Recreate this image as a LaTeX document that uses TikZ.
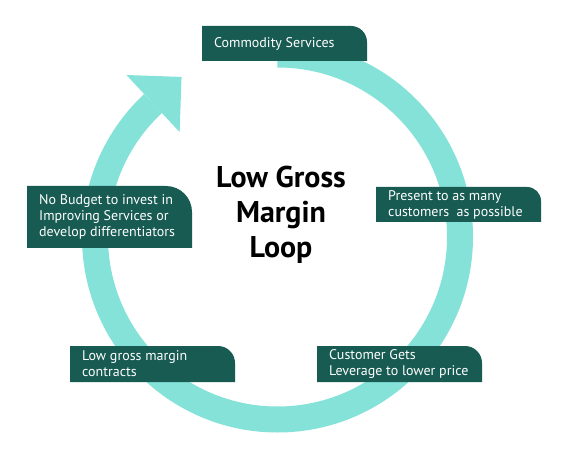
\documentclass[tikz,border=0pt]{standalone}
\usepackage{fontspec}
\setmainfont{PT Sans}
\usetikzlibrary{calc}
\definecolor{ringc}{HTML}{84E2D8}
\definecolor{boxc}{HTML}{175B52}
\begin{document}
\begin{tikzpicture}[x=1pt,y=1pt,
		 ring/.style={draw=ringc,line width=26pt},
		 lbl/.style={anchor=west,align=left,text=white,inner sep=0pt,font=\fontsize{14}{16}\selectfont}]
		 \useasboundingbox (0,0) rectangle (572,450);
		 \coordinate (c) at (277.5,213);
		 \draw[ring] (c) ++(90:182.5) arc[start angle=90,end angle=-227,radius=182.5];
		 \coordinate (h1) at ($(c)+(133:143.5)$); \coordinate (h2) at ($(c)+(133:221.5)$);
		 \coordinate (tip) at ($(c)+(133:182.5)+(43:39)$);
		 \fill[ringc] (h1) -- (h2) -- (tip) -- cycle;
		 \foreach \x/\y/\h/\r/\n/\t in {202/389/35/16/comm/{Commodity Services},
		   27/202/62/26/budget/{No Budget to invest in\\Improving Services or\\develop differentiators},
		   376/228/35/14/present/{Present to as many\\customers~ as possible},
		   70/68/36/17/margin/{Low gross margin\\contracts},
		   317/68/36/17/lever/{Customer Gets\\Leverage to lower price}}{
		   \fill[boxc] (\x,\y) -- (\x,\y+\h) -- (\x+165-\r,\y+\h) arc[start angle=90,end angle=0,radius=\r] -- (\x+165,\y) -- cycle;
		   \node[lbl] (\n) at (\x+12,\y+\h/2) {\t};
		 }
		 \node[font=\fontsize{30}{35}\selectfont\bfseries,align=center] (title) at (281,235) {Low Gross\\Margin\\Loop};
\end{tikzpicture}
\end{document}
